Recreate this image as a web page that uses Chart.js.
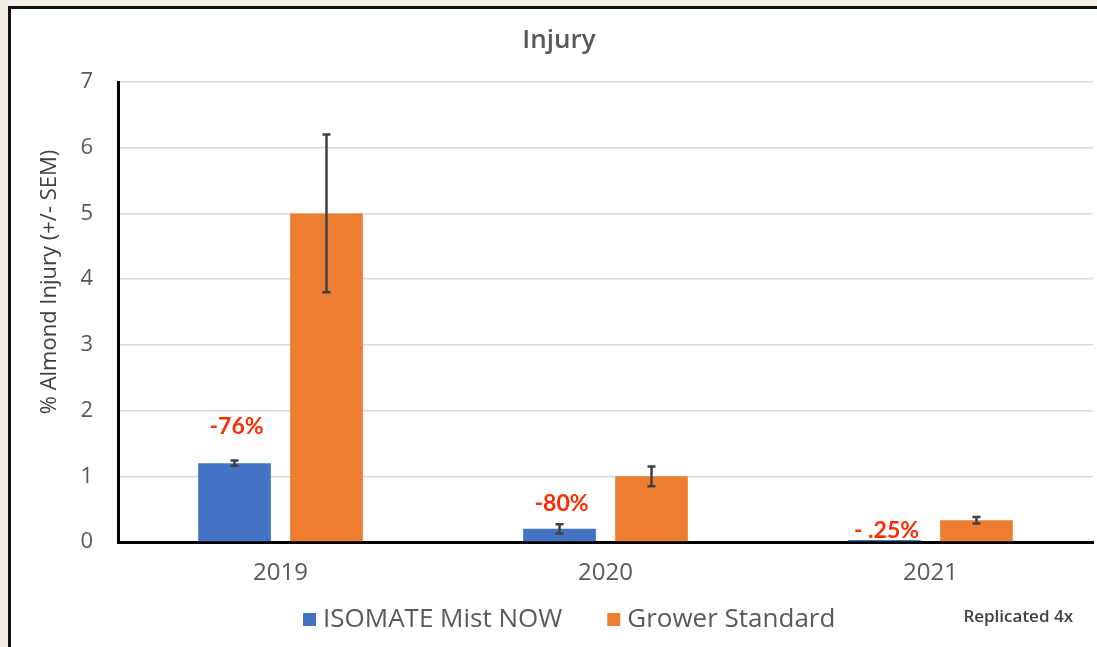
<!DOCTYPE html>
<html>
<head>
<meta charset="utf-8">
<script src="https://cdn.jsdelivr.net/npm/chart.js@4"></script>
<style>
  html, body { margin: 0; padding: 0; }
  body { width: 1097px; height: 647px; background: #f3efe6; overflow: hidden; position: relative; }
  #frame {
    position: absolute; left: 8px; top: 6px; right: 0; bottom: 0;
    background: #fff; border-left: 3px solid #111; border-top: 3px solid #111;
  }
  #chart { position: absolute; left: 0; top: 0; }
</style>
</head>
<body>
<div id="frame"><canvas id="chart" width="1086" height="638"></canvas></div>
<script>
// Data
const years = ['2019', '2020', '2021'];
const isomate = [1.2, 0.2, 0.03];
const isomateErr = [0.04, 0.07, 0];
const grower = [5.0, 1.0, 0.33];
const growerErr = [1.2, 0.15, 0.05];
const yTicks = [0, 1, 2, 3, 4, 5, 6, 7];
const reductionLabels = ['-76%', '-80%', '- .25%'];
const reductionAt = [1.75, 0.59, 0.18]; // label height in axis units

const FONT = '"Open Sans", Lato, sans-serif';
const LABEL_FONT = 'Lato, "Open Sans", sans-serif';

// Error bars
const errorBars = {
    id: 'errorBars',
    afterDatasetsDraw(chart) {
        const ctx = chart.ctx;
        const y = chart.scales.y;
        const errs = [isomateErr, growerErr];
        ctx.save();
        ctx.strokeStyle = '#404040';
        ctx.lineWidth = 2.5;
        chart.data.datasets.forEach((ds, di) => {
            chart.getDatasetMeta(di).data.forEach((bar, i) => {
                const e = errs[di][i];
                if (!e) return;
                const top = y.getPixelForValue(ds.data[i] + e);
                const bot = y.getPixelForValue(ds.data[i] - e);
                ctx.beginPath();
                ctx.moveTo(bar.x, top); ctx.lineTo(bar.x, bot);
                ctx.moveTo(bar.x - 4, top); ctx.lineTo(bar.x + 4, top);
                ctx.moveTo(bar.x - 4, bot); ctx.lineTo(bar.x + 4, bot);
                ctx.stroke();
            });
        });
        ctx.restore();
    }
};

// Titles, reduction labels, legend
const extras = {
    id: 'extras',
    afterDraw(chart) {
        const ctx = chart.ctx;
        const y = chart.scales.y;
        ctx.save();
        ctx.textAlign = 'center';
        ctx.textBaseline = 'middle';

        ctx.fillStyle = '#595959';
        ctx.font = '600 26px ' + FONT;
        ctx.fillText('Injury', 548, 32);

        ctx.save();
        ctx.translate(39, 273);
        ctx.rotate(-Math.PI / 2);
        ctx.fillStyle = '#404040';
        ctx.font = '22px ' + FONT;
        ctx.fillText('% Almond Injury (+/- SEM)', 0, 0);
        ctx.restore();

        ctx.fillStyle = '#ff2a00';
        ctx.font = 'bold 23px ' + LABEL_FONT;
        chart.getDatasetMeta(0).data.forEach((bar, i) => {
            ctx.fillText(reductionLabels[i], bar.x + 2, y.getPixelForValue(reductionAt[i]));
        });

        // legend
        ctx.font = '26px ' + FONT;
        ctx.textAlign = 'left';
        const ly = 611;
        let lx = 292;
        chart.data.datasets.forEach(ds => {
            ctx.fillStyle = ds.backgroundColor;
            ctx.fillRect(lx, ly - 7, 13, 13);
            ctx.fillStyle = '#595959';
            ctx.fillText(ds.label, lx + 20, ly);
            lx += 20 + ctx.measureText(ds.label).width + 45;
        });

        ctx.fillStyle = '#404040';
        ctx.font = '600 17px ' + FONT;
        ctx.textAlign = 'right';
        ctx.fillText('Replicated 4x', 1062, 608);
        ctx.restore();
    }
};

new Chart(document.getElementById('chart'), {
    type: 'bar',
    data: {
        labels: years,
        datasets: [
            { label: 'ISOMATE Mist NOW', data: isomate, backgroundColor: '#4472c4',
              categoryPercentage: 0.566, barPercentage: 0.79 },
            { label: 'Grower Standard', data: grower, backgroundColor: '#ed7d31',
              categoryPercentage: 0.566, barPercentage: 0.79 }
        ]
    },
    options: {
        responsive: false,
        animation: false,
        layout: { padding: { top: 73, right: 4, bottom: 0, left: 0 } },
        plugins: {
            legend: { display: false },
            title: { display: false },
            tooltip: { enabled: false }
        },
        scales: {
            x: {
                grid: { display: false, drawTicks: false },
                border: { color: '#000', width: 3 },
                ticks: { color: '#595959', font: { family: FONT, size: 24 }, padding: 17 },
                afterFit(scale) { scale.height = 105; }
            },
            y: {
                min: 0, max: 7,
                afterBuildTicks(scale) { scale.ticks = yTicks.map(v => ({ value: v })); },
                grid: { color: '#d9d9d9', lineWidth: 1.5, drawTicks: false },
                border: { color: '#000', width: 3 },
                ticks: { color: '#595959', font: { family: FONT, size: 22 }, padding: 25 },
                afterFit(scale) { scale.width = 107; }
            }
        }
    },
    plugins: [errorBars, extras]
});
</script>
</body>
</html>
